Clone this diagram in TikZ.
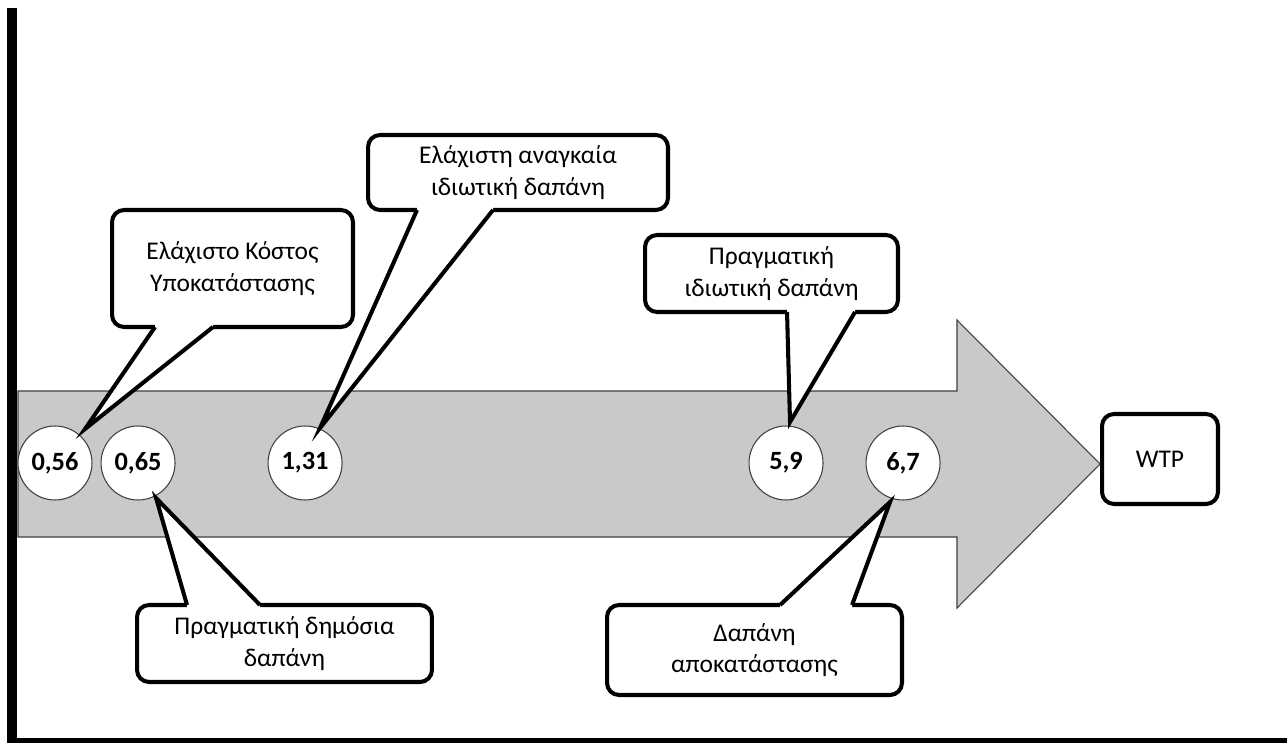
\documentclass[tikz,border=0pt]{standalone}
\usepackage{fontspec}
\setmainfont{Carlito}
\usetikzlibrary{positioning}
\usetikzlibrary{calc}

\begin{document}
\begin{tikzpicture}[x=0.02cm, y=-0.02cm,
    bubble/.style={draw, line width=2.3pt, rounded corners=0.24cm, fill=white, outer sep=0pt, align=center, font=\fontsize{14.5}{18}\selectfont},
    bubbletail/.style={line width=2.3pt, line join=miter},
    valuedot/.style={circle, draw=black!75, line width=0.6pt, fill=white, minimum size=1.48cm, inner sep=0pt, font=\fontsize{15}{18}\selectfont\bfseries},
    timeband/.style={fill=black!21, draw=black!75, line width=0.6pt}]
			\useasboundingbox (0,0) rectangle (1287,743);
			% Frame
			\fill (7,8) rectangle (17,743);
			\fill (7,738) rectangle (1287,743);
			% Big arrow
			\filldraw[timeband] (18,391) -- (957,391) -- (957,320) -- (1100,464) -- (957,608) -- (957,537) -- (18,537) -- cycle;
			% Values
			\node[valuedot] (c056) at (55,463) {0,56};
			\node[valuedot, right=0.16cm of c056] (c065) {0,65};
			\node[valuedot, right=1.84cm of c065] (c131) {1,31};
			\node[valuedot, right=8.12cm of c131] (c59) {5,9};
			\node[valuedot, right=0.84cm of c59] (c67) {6,7};
			% Callouts
			\node[bubble, minimum width=4.82cm, minimum height=2.34cm] (kostos) at (232.5,268.5) {Ελάχιστο Κόστος\\Υποκατάστασης};
			\node[bubble, minimum width=6cm, minimum height=1.5cm] (anagk) at (518,172.5) {Ελάχιστη αναγκαία\\ιδιωτική δαπάνη};
			\node[bubble, minimum width=5.9cm, minimum height=1.54cm] (dimosia) at (284.5,643.5) {Πραγματική δημόσια\\δαπάνη};
			\node[bubble, minimum width=5.06cm, minimum height=1.54cm] (idiotiki) at (771.5,273.5) {Πραγματική\\ιδιωτική δαπάνη};
			\node[bubble, minimum width=5.9cm, minimum height=1.8cm] (apokat) at (754.5,650) {Δαπάνη\\αποκατάστασης};
			\node[bubble, minimum width=2.32cm, minimum height=1.8cm] (wtp) at (1160,459) {WTP};
			% Tails
			\coordinate (k1) at ($(kostos.south west)+(43,0)$);
			\coordinate (k2) at ($(kostos.south west)+(101,0)$);
			\coordinate (kt) at ($(c056)+(30,-34)$);
			\fill[white] ($(k1)+(0,-6)$) -- (k1) -- (kt) -- (k2) -- ($(k2)+(0,-6)$) -- cycle;
			\draw[bubbletail] (k1) -- (kt) -- (k2);
			\coordinate (a1) at ($(anagk.south west)+(49,0)$);
			\coordinate (a2) at ($(anagk.south west)+(125,0)$);
			\coordinate (at) at ($(c131)+(15,-35)$);
			\fill[white] ($(a1)+(0,-6)$) -- (a1) -- (at) -- (a2) -- ($(a2)+(0,-6)$) -- cycle;
			\draw[bubbletail] (a1) -- (at) -- (a2);
			\coordinate (d1) at ($(dimosia.north west)+(50,0)$);
			\coordinate (d2) at ($(dimosia.north west)+(123,0)$);
			\coordinate (dt) at ($(c065)+(18,35)$);
			\fill[white] ($(d1)+(0,6)$) -- (d1) -- (dt) -- (d2) -- ($(d2)+(0,6)$) -- cycle;
			\draw[bubbletail] (d1) -- (dt) -- (d2);
			\coordinate (i1) at ($(idiotiki.south west)+(142,0)$);
			\coordinate (i2) at ($(idiotiki.south west)+(210,0)$);
			\coordinate (it) at ($(c59)+(4,-41)$);
			\fill[white] ($(i1)+(0,-6)$) -- (i1) -- (it) -- (i2) -- ($(i2)+(0,-6)$) -- cycle;
			\draw[bubbletail] (i1) -- (it) -- (i2);
			\coordinate (p1) at ($(apokat.north west)+(173,0)$);
			\coordinate (p2) at ($(apokat.north west)+(245,0)$);
			\coordinate (pt) at ($(c67)+(-13,39)$);
			\fill[white] ($(p1)+(0,6)$) -- (p1) -- (pt) -- (p2) -- ($(p2)+(0,6)$) -- cycle;
			\draw[bubbletail] (p1) -- (pt) -- (p2);
		\end{tikzpicture}
\end{document}
